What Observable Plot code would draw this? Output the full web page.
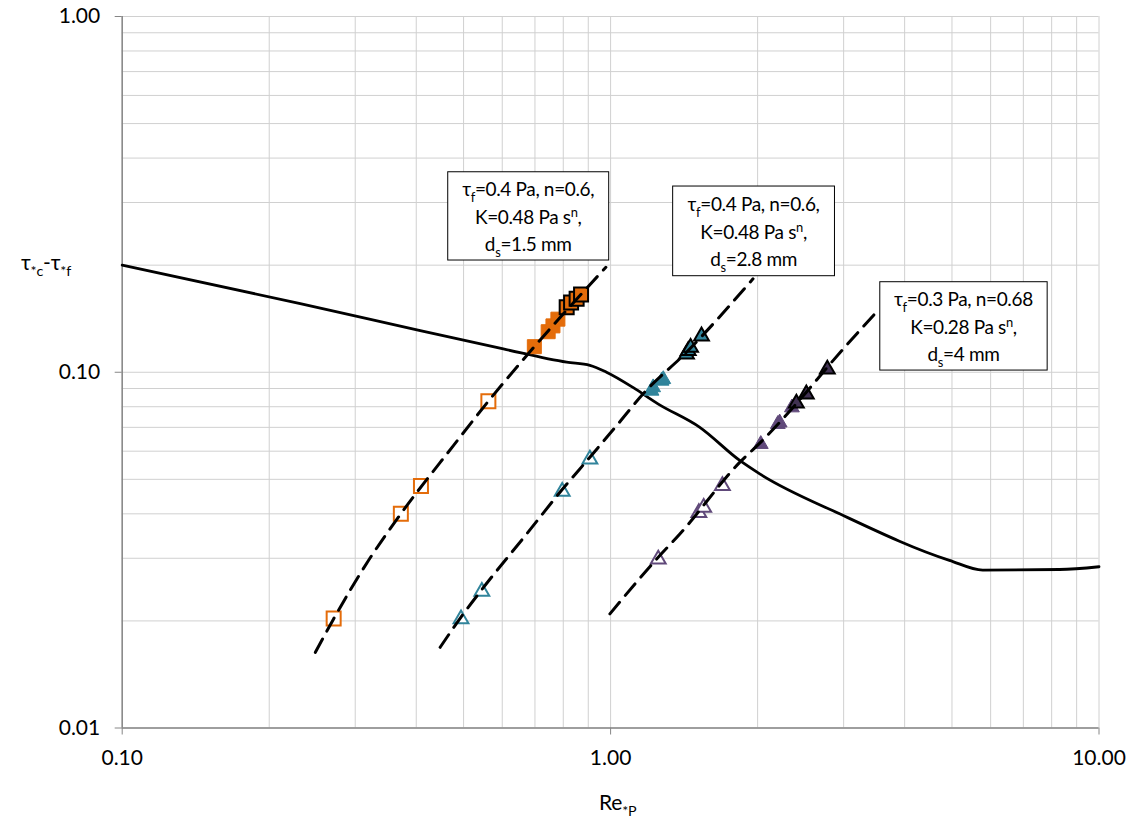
<!DOCTYPE html>
<html>
<head>
<meta charset="utf-8">
<script src="https://cdn.jsdelivr.net/npm/d3@7"></script>
<script src="https://cdn.jsdelivr.net/npm/@observablehq/plot@0.6"></script>
<style>
  body { margin: 0; background: #fff; }
  #chart svg { display: block; }
</style>
</head>
<body>
<div id="chart"></div>
<script>
// Threshold curve: τ*c − τ*f versus particle Reynolds number Re*P
const curveRe  = [0.1, 0.2315, 0.4076, 0.603, 0.813, 0.907, 0.981, 1.113, 1.25, 1.523, 1.838, 2.02, 2.944, 4.94, 5.78, 8.3, 10];
const curveTau = [0.2, 0.156, 0.131, 0.1163, 0.1067, 0.1046, 0.100, 0.0905, 0.0815, 0.070, 0.0565, 0.0518, 0.040, 0.0296, 0.0278, 0.0279, 0.0284];

// d_s = 1.5 mm (squares): no motion, motion, general motion
const sqOpenRe  = [0.271, 0.372, 0.409, 0.562];
const sqOpenTau = [0.0203, 0.040, 0.0479, 0.0829];
const sqFillRe  = [0.698, 0.745, 0.762, 0.780];
const sqFillTau = [0.118, 0.130, 0.135, 0.141];
const sqEdgeRe  = [0.813, 0.830, 0.852, 0.870];
const sqEdgeTau = [0.1523, 0.157, 0.161, 0.1654];
const fit15Re   = [0.2486, 0.2709, 0.3193, 0.372, 0.4766, 0.562, 0.698, 0.978];
const fit15Tau  = [0.01632, 0.02026, 0.02956, 0.040, 0.0622, 0.0829, 0.118, 0.1973];

// d_s = 2.8 mm (teal triangles)
const tlOpenRe  = [0.494, 0.545, 0.796, 0.907];
const tlOpenTau = [0.0205, 0.0245, 0.0468, 0.0577];
const tlFillRe  = [1.213, 1.222, 1.272, 1.282];
const tlFillTau = [0.0898, 0.0918, 0.0958, 0.0968];
const tlEdgeRe  = [1.43, 1.442, 1.458, 1.535];
const tlEdgeTau = [0.1138, 0.1164, 0.1189, 0.128];
const fit28Re   = [0.4477, 0.494, 0.545, 0.6734, 0.796, 0.907, 1.036, 1.166, 1.43, 1.957];
const fit28Tau  = [0.01686, 0.0205, 0.0245, 0.03513, 0.0468, 0.0577, 0.0716, 0.087, 0.1138, 0.1831];

// d_s = 4 mm (purple triangles)
const puOpenRe  = [1.252, 1.516, 1.551, 1.694];
const puOpenTau = [0.0302, 0.0408, 0.0422, 0.0486];
const puFillRe  = [2.03, 2.2, 2.219, 2.351];
const puFillTau = [0.0636, 0.0724, 0.0731, 0.0806];
const puEdgeRe  = [2.401, 2.516, 2.778];
const puEdgeTau = [0.0829, 0.0879, 0.1033];
const fit4Re    = [0.9967, 1.252, 1.386, 1.838, 2.03, 2.516, 2.778, 3.50];
const fit4Tau   = [0.02093, 0.0302, 0.0351, 0.0558, 0.0636, 0.0879, 0.1033, 0.1475];

// Axis ticks and gridlines
const xTicks = [0.1, 1, 10];
const yTicks = [0.01, 0.1, 1];
const xGridTicks = [0.1, 0.2, 0.3, 0.4, 0.5, 0.6, 0.7, 0.8, 0.9, 1, 2, 3, 4, 5, 6, 7, 8, 9, 10];
const yGridTicks = [0.01, 0.02, 0.03, 0.04, 0.05, 0.06, 0.07, 0.08, 0.09, 0.1, 0.2, 0.3, 0.4, 0.5, 0.6, 0.7, 0.8, 0.9, 1];

// Annotation boxes (data-space corners) and their three text lines
const boxX1 = [0.4651, 1.343, 3.566];
const boxX2 = [0.9934, 2.88, 7.85];
const boxYTop = [0.3649, 0.3327, 0.1791];
const boxYBottom = [0.2061, 0.1862, 0.1011];
const boxLines = [
  ["τ_{f}=0.4 Pa, n=0.6,", "K=0.48 Pa s^{n},", "d_{s}=1.5 mm"],
  ["τ_{f}=0.4 Pa, n=0.6,", "K=0.48 Pa s^{n},", "d_{s}=2.8 mm"],
  ["τ_{f}=0.3 Pa, n=0.68", "K=0.28 Pa s^{n},", "d_{s}=4 mm"]
];

const zip = (xs, ys) => xs.map((x, i) => ({x, y: ys[i]}));
const boxes = boxX1.map((x1, i) => ({x1, x2: boxX2[i], y1: boxYBottom[i], y2: boxYTop[i], lines: boxLines[i]}));

const ORANGE = "#E46C0A";
const TEAL = "#31849B";
const PURPLE = "#60497A";
const PURPLE_DARK = "#403152";

const SQ_R = 7.9;
const TRI_R = 5.5;

const dash = {stroke: "#000", strokeWidth: 3, strokeDasharray: "15,9"};
const FONT = "Lato, 'Open Sans', sans-serif";

const chart = Plot.plot({
  width: 1133,
  height: 818,
  marginLeft: 121.7,
  marginRight: 34.5,
  marginTop: 16,
  marginBottom: 90.5,
  style: {fontFamily: FONT, background: "#fff", color: "#000"},
  x: {type: "log", domain: [0.1, 10]},
  y: {type: "log", domain: [0.01, 1]},
  marks: [
    Plot.ruleX(xGridTicks, {stroke: "#d0d0d0", strokeWidth: 1}),
    Plot.ruleY(yGridTicks, {stroke: "#d0d0d0", strokeWidth: 1}),
    Plot.ruleX([0.1], {stroke: "#868686", strokeWidth: 1.5}),
    Plot.ruleY([0.01], {stroke: "#868686", strokeWidth: 1.5}),
    Plot.axisX({ticks: xTicks, tickFormat: d3.format(".2f"), tickSize: 7, tickPadding: 15, fontSize: 21, stroke: "#868686", fill: "#000", label: null}),
    Plot.axisY({ticks: yTicks, tickFormat: d3.format(".2f"), tickSize: 7, tickPadding: 15, fontSize: 21, stroke: "#868686", fill: "#000", label: null}),

    // threshold curve
    Plot.line(zip(curveRe, curveTau), {x: "x", y: "y", stroke: "#000", strokeWidth: 2.8, curve: "monotone-x"}),

    // d_s = 1.5 mm
    Plot.dot(zip(sqOpenRe, sqOpenTau), {x: "x", y: "y", symbol: "square", r: SQ_R, fill: "#fff", stroke: ORANGE, strokeWidth: 2}),
    Plot.dot(zip(sqFillRe, sqFillTau), {x: "x", y: "y", symbol: "square", r: SQ_R, fill: ORANGE, stroke: ORANGE, strokeWidth: 1}),
    Plot.dot(zip(sqEdgeRe, sqEdgeTau), {x: "x", y: "y", symbol: "square", r: SQ_R, fill: ORANGE, stroke: "#000", strokeWidth: 2}),

    // d_s = 2.8 mm
    Plot.dot(zip(tlOpenRe, tlOpenTau), {x: "x", y: "y", dy: 2, symbol: "triangle", r: TRI_R, fill: "#fff", stroke: TEAL, strokeWidth: 2}),
    Plot.dot(zip(tlFillRe, tlFillTau), {x: "x", y: "y", dy: 2, symbol: "triangle", r: TRI_R, fill: TEAL, stroke: TEAL, strokeWidth: 1}),
    Plot.dot(zip(tlEdgeRe, tlEdgeTau), {x: "x", y: "y", dy: 2, symbol: "triangle", r: TRI_R, fill: TEAL, stroke: "#000", strokeWidth: 2}),

    // d_s = 4 mm
    Plot.dot(zip(puOpenRe, puOpenTau), {x: "x", y: "y", dy: 2, symbol: "triangle", r: TRI_R, fill: "#fff", stroke: PURPLE, strokeWidth: 2}),
    Plot.dot(zip(puFillRe, puFillTau), {x: "x", y: "y", dy: 2, symbol: "triangle", r: TRI_R, fill: PURPLE, stroke: PURPLE, strokeWidth: 1}),
    Plot.dot(zip(puEdgeRe, puEdgeTau), {x: "x", y: "y", dy: 2, symbol: "triangle", r: TRI_R, fill: PURPLE_DARK, stroke: "#000", strokeWidth: 2}),

    // fitted trends
    Plot.line(zip(fit15Re, fit15Tau), {x: "x", y: "y", curve: "monotone-x", ...dash}),
    Plot.line(zip(fit28Re, fit28Tau), {x: "x", y: "y", curve: "monotone-x", ...dash}),
    Plot.line(zip(fit4Re, fit4Tau), {x: "x", y: "y", curve: "monotone-x", ...dash}),

    // annotation boxes
    Plot.rect(boxes, {x1: "x1", x2: "x2", y1: "y1", y2: "y2", fill: "#fff", stroke: "#000", strokeWidth: 1})
  ]
});

document.getElementById("chart").appendChild(chart);

// Rich text with _{sub} and ^{sup} segments
function richText(parent, str, x, y, size, anchor, spacing) {
  const t = parent.append("text")
    .attr("x", x).attr("y", y)
    .attr("text-anchor", anchor)
    .attr("font-size", size)
    .attr("letter-spacing", spacing || 0)
    .attr("fill", "#000");
  const re = /([_^])\{([^}]*)\}/g;
  let last = 0, m, shift = 0;
  const push = (txt, kind) => {
    if (!txt) return;
    const small = size * 0.68;
    const target = kind === "_" ? size * 0.3 : kind === "^" ? -size * 0.38 : 0;
    t.append("tspan")
      .attr("dy", target - shift)
      .attr("font-size", kind ? small : size)
      .text(txt);
    shift = target;
  };
  while ((m = re.exec(str))) {
    push(str.slice(last, m.index), null);
    push(m[2], m[1]);
    last = re.lastIndex;
  }
  push(str.slice(last), null);
  return t;
}

const svg = d3.select(chart);
const sx = chart.scale("x"), sy = chart.scale("y");
const ann = svg.append("g").attr("font-family", FONT);
boxes.forEach(b => {
  const cx = (sx.apply(b.x1) + sx.apply(b.x2)) / 2;
  const cy = (sy.apply(b.y1) + sy.apply(b.y2)) / 2;
  b.lines.forEach((line, i) => {
    richText(ann, line, cx, cy + (i - 1) * 27.5 + 8, 19, "middle", -0.35);
  });
});

// Axis titles
richText(ann, "τ_{*c}-τ_{*f}", 21, 270, 21, "start", -0.2);
richText(ann, "Re_{*P}", 599, 810, 21, "start", -0.2);
</script>
</body>
</html>
